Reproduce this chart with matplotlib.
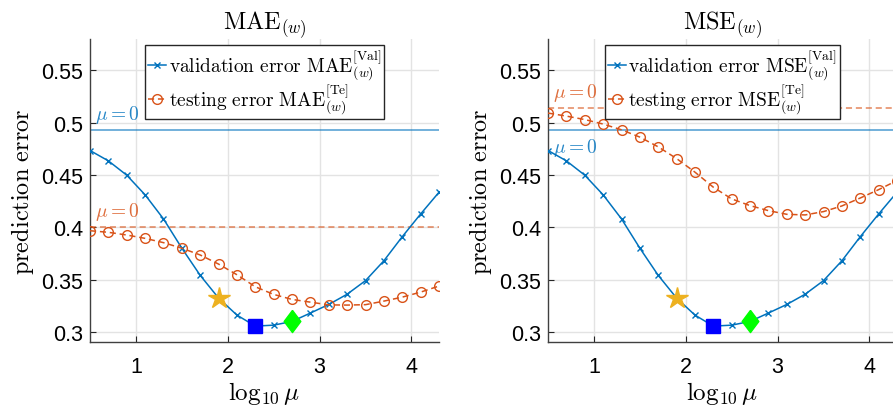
import numpy as np
import matplotlib
matplotlib.use('Agg')
import matplotlib.pyplot as plt

plt.rcParams['mathtext.fontset'] = 'cm'
plt.rcParams['font.family'] = ['Liberation Sans', 'DejaVu Sans']

# log10(mu) grid
log_mu = [0.5, 0.7, 0.9, 1.1, 1.3, 1.5, 1.7, 1.9, 2.1, 2.3,
          2.5, 2.7, 2.9, 3.1, 3.3, 3.5, 3.7, 3.9, 4.1, 4.3]

# validation errors (same for both panels)
val_err = [0.4734, 0.4635, 0.4498, 0.4310, 0.4080, 0.3800, 0.3540, 0.3323, 0.3160, 0.3055,
           0.3064, 0.3100, 0.3180, 0.3262, 0.3360, 0.3490, 0.3680, 0.3910, 0.4127, 0.4335]

# testing errors
mae_test = [0.3967, 0.3952, 0.3926, 0.3894, 0.3853, 0.3800, 0.3735, 0.3648, 0.3546, 0.3431,
            0.3358, 0.3310, 0.3284, 0.3258, 0.3256, 0.3260, 0.3294, 0.3332, 0.3380, 0.3438]
mse_test = [0.5092, 0.5063, 0.5030, 0.4987, 0.4932, 0.4862, 0.4769, 0.4657, 0.4527, 0.4383,
            0.4271, 0.4207, 0.4159, 0.4124, 0.4118, 0.4150, 0.4204, 0.4280, 0.4360, 0.4447]

# mu = 0 baselines
mae_val0, mae_test0 = 0.4929, 0.4000
mse_val0, mse_test0 = 0.4929, 0.5140

# selected mu values: star, square, diamond
star_x, square_x, diamond_x = 1.9, 2.3, 2.7

blue = '#0072BD'
orange = '#D95319'

# slightly narrow diamond
diamond = [(0, 1), (0.75, 0), (0, -1), (-0.75, 0), (0, 1)]

fig = plt.figure(figsize=(8.93, 4.06), dpi=100)
ax1 = fig.add_axes([0.1008, 0.1544, 0.3908, 0.747])
ax2 = fig.add_axes([0.6137, 0.1544, 0.3908, 0.747])


def pick(x):
    return val_err[log_mu.index(x)]


def draw(ax, name, test, v0, t0, blue_lbl_below):
    ax.axhline(v0, color=blue, alpha=0.7, lw=1.1, zorder=2)
    ax.axhline(t0, color=orange, alpha=0.7, lw=1.1, ls=(0, (4, 2.5)), zorder=2)
    ax.plot(log_mu, val_err, color=blue, lw=1.1, marker='x', ms=4.5, mew=1,
            label=r'$\mathrm{validation\ error\ %s}_{(w)}^{[\mathrm{Val}]}$' % name, zorder=4)
    ax.plot(log_mu, test, color=orange, lw=1.1, ls=(0, (4, 2.5)), marker='o', ms=7,
            mfc='none', mew=1, label=r'$\mathrm{testing\ error\ %s}_{(w)}^{[\mathrm{Te}]}$' % name,
            zorder=4)
    ax.plot(star_x, pick(star_x), marker='*', ms=16, color='#EDB120', mec='#EDB120', zorder=5)
    ax.plot(square_x, pick(square_x), marker='s', ms=9.5, color='blue', zorder=5)
    ax.plot(diamond_x, pick(diamond_x), marker=diamond, ms=16, color='#00FF00', mec='#00FF00', zorder=5)

    ax.text(0.55, t0 + 0.005, r'$\mu = 0$', color=orange, alpha=0.85, fontsize=14, va='bottom')
    if blue_lbl_below:
        ax.text(0.55, v0 - 0.006, r'$\mu = 0$', color=blue, alpha=0.85, fontsize=14, va='top')
    else:
        ax.text(0.55, v0 + 0.005, r'$\mu = 0$', color=blue, alpha=0.85, fontsize=14, va='bottom')

    ax.set_xlim(0.5, 4.3)
    ax.set_ylim(0.29, 0.58)
    ax.set_xticks([1, 2, 3, 4])
    ax.set_yticks([0.3, 0.35, 0.4, 0.45, 0.5, 0.55])
    ax.set_yticklabels(['0.3', '0.35', '0.4', '0.45', '0.5', '0.55'])
    ax.tick_params(direction='in', length=4, labelsize=15.5, colors='#262626', labelcolor='black')
    ax.tick_params(axis='x', pad=10)
    ax.tick_params(axis='y', pad=5)
    ax.grid(True, color='#e3e3e3', lw=1)
    ax.set_axisbelow(True)
    for s in ['top', 'right']:
        ax.spines[s].set_visible(False)
    for s in ['left', 'bottom']:
        ax.spines[s].set_color('#404040')
        ax.spines[s].set_linewidth(1)

    ax.set_title(r'$\mathrm{%s}_{(w)}$' % name, fontsize=17.5, pad=7)
    ax.set_xlabel(r'$\log_{10}\mu$', fontsize=18, labelpad=1)
    ax.set_ylabel(r'$\mathrm{prediction\ error}$', fontsize=17.5, labelpad=4)
    leg = ax.legend(loc='upper center', fontsize=14, handlelength=0.9, handletextpad=0.15,
                    borderpad=0.15, labelspacing=0.0, fancybox=False, framealpha=1,
                    borderaxespad=0.3, bbox_to_anchor=(0.5, 1.0))
    leg.get_frame().set_edgecolor('#262626')
    leg.get_frame().set_linewidth(1)


draw(ax1, 'MAE', mae_test, mae_val0, mae_test0, False)
draw(ax2, 'MSE', mse_test, mse_val0, mse_test0, True)

fig.savefig('out.png', dpi=100)
